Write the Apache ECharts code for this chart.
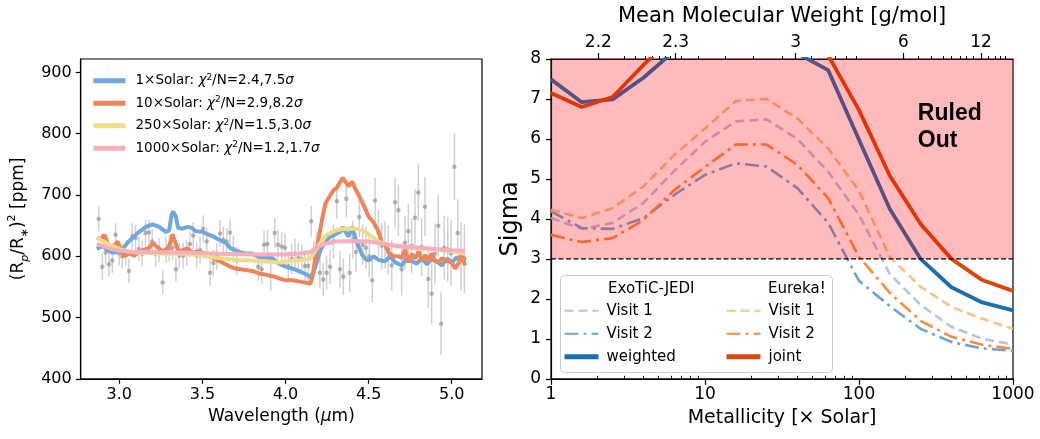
<!DOCTYPE html>
<html><head><meta charset="utf-8">
<script src="https://cdn.jsdelivr.net/npm/echarts@6/dist/echarts.min.js"></script>
<style>html,body{margin:0;padding:0;background:#fff}#c{width:1040px;height:439px}</style>
</head><body><div id="c"></div>
<script>
// ---------------- Left panel data ----------------
const wavelength = [2.876,2.898,2.918,2.938,2.958,2.978,3.000,3.018,3.038,3.058,3.078,3.098,3.118,3.138,3.158,3.178,3.198,3.218,3.240,3.261,3.281,3.300,3.320,3.341,3.361,3.385,3.405,3.425,3.445,3.466,3.486,3.505,3.526,3.546,3.566,3.586,3.606,3.626,3.646,3.666,3.686,3.706,
3.836,3.856,3.871,3.891,3.911,3.935,3.955,3.977,3.997,4.017,4.037,4.057,4.077,4.097,4.117,4.137,4.155,4.170,4.187,4.207,4.227,4.247,4.268,4.288,4.308,4.328,4.348,4.366,4.386,4.404,4.424,4.444,4.464,4.484,4.504,4.522,4.539,4.559,4.579,4.599,4.618,4.639,4.659,4.679,4.699,4.719,4.739,4.759,4.779,4.799,4.819,4.839,4.859,4.879,4.899,4.919,4.936,4.955,4.976,4.996,5.016,5.036,5.056,5.076];
const depth = [661,583,606,587,593,635,605,600,605,576,633,630,612,604,638,639,624,604,610,557,611,612,614,579,601,601,605,620,634,601,610,645,624,573,589,600,637,627,624,639,612,593,
583,579,619,620,568,638,619,616,614,584,596,604,597,595,584,584,657,600,614,573,562,573,583,624,690,579,567,694,573,627,607,664,619,614,600,561,691,638,617,619,611,585,688,675,579,622,641,617,663,704,615,681,563,539,604,650,490,614,611,605,746,638,600,596];
const depthErr = [20,21,20,20,20,20,20,20,21,20,21,21,20,21,21,21,20,21,20,20,21,21,21,20,21,21,21,21,22,21,22,22,22,21,22,22,22,22,22,22,22,23,
23,23,23,23,24,24,24,24,24,24,25,25,25,25,25,25,25,25,26,26,27,27,28,28,29,29,30,30,31,31,32,33,33,34,35,36,37,38,38,39,40,41,41,42,43,43,44,45,46,46,47,48,48,49,50,50,51,52,53,54,54,55,56,56];

const model1x = [[2.865,612],[2.90,617],[2.93,610],[2.96,606],[3.0,607],[3.03,615],[3.05,622],[3.08,630],[3.12,640],[3.16,648],[3.2,652],[3.24,648],[3.28,640],[3.30,642],[3.315,668],[3.325,673],[3.34,665],[3.355,646],[3.38,645],[3.41,648],[3.43,647],[3.46,641],[3.5,640],[3.53,636],[3.56,633],[3.6,627],[3.64,622],[3.67,613],[3.7,609],[3.75,605],[3.8,604],[3.84,599],[3.88,598],[3.92,597],[3.96,588],[4.0,583],[4.04,580],[4.08,576],[4.12,571],[4.15,566],[4.17,575],[4.19,592],[4.21,610],[4.23,620],[4.26,630],[4.3,636],[4.33,640],[4.345,648],[4.36,640],[4.38,632],[4.40,648],[4.42,630],[4.44,616],[4.46,603],[4.48,596],[4.5,593],[4.53,600],[4.56,594],[4.6,592],[4.63,600],[4.66,590],[4.7,585],[4.73,598],[4.76,592],[4.79,588],[4.82,597],[4.85,587],[4.88,595],[4.91,592],[4.94,585],[4.97,596],[5.0,590],[5.03,598],[5.06,593],[5.08,598]];
const model10x = [[2.865,630],[2.89,628],[2.91,635],[2.93,622],[2.945,616],[2.97,618],[2.99,624],[3.01,610],[3.03,600],[3.06,605],[3.09,601],[3.12,607],[3.15,611],[3.18,614],[3.2,621],[3.23,615],[3.26,608],[3.29,612],[3.31,624],[3.32,636],[3.335,625],[3.355,608],[3.38,610],[3.41,613],[3.44,606],[3.47,608],[3.5,606],[3.54,600],[3.58,595],[3.62,590],[3.66,584],[3.70,580],[3.75,578],[3.8,576],[3.84,572],[3.88,570],[3.93,567],[3.97,563],[4.0,561],[4.04,561],[4.08,559],[4.12,557],[4.15,555],[4.165,570],[4.18,600],[4.2,630],[4.22,660],[4.24,686],[4.27,700],[4.29,708],[4.31,712],[4.33,722],[4.345,728],[4.36,722],[4.38,714],[4.40,722],[4.42,710],[4.44,700],[4.47,683],[4.5,665],[4.53,655],[4.56,640],[4.58,622],[4.60,618],[4.62,606],[4.65,600],[4.68,600],[4.70,597],[4.72,612],[4.74,590],[4.76,604],[4.78,596],[4.80,608],[4.82,592],[4.84,602],[4.86,593],[4.88,605],[4.90,592],[4.92,590],[4.94,597],[4.97,592],[5.0,590],[5.02,580],[5.04,588],[5.06,605],[5.08,585]];
const model250x = [[2.865,630],[2.9,625],[2.95,618],[3.0,612],[3.05,608],[3.1,606],[3.2,605],[3.3,604],[3.4,604],[3.5,601],[3.6,597],[3.7,594],[3.8,593],[3.9,591],[3.97,590],[4.05,593],[4.1,594],[4.15,596],[4.18,610],[4.21,622],[4.25,635],[4.3,642],[4.35,645],[4.42,645],[4.47,641],[4.52,632],[4.56,624],[4.6,620],[4.65,617],[4.7,615],[4.8,613],[4.9,611],[5.0,608],[5.08,604]];
const model1000x = [[2.865,620],[2.9,617],[2.95,612],[3.0,609],[3.1,607],[3.2,607],[3.4,606],[3.6,604],[3.8,603],[4.0,603],[4.1,605],[4.15,607],[4.19,614],[4.23,620],[4.3,624],[4.4,625],[4.5,624],[4.55,622],[4.62,619],[4.7,616],[4.8,614],[4.9,612],[5.0,610],[5.08,609]];
const modelNames = ['1×Solar','10×Solar','250×Solar','1000×Solar'];
const modelLabels = ['1×Solar: {i|χ}{s|2}/N=2.4,7.5{i|σ}','10×Solar: {i|χ}{s|2}/N=2.9,8.2{i|σ}','250×Solar: {i|χ}{s|2}/N=1.5,3.0{i|σ}','1000×Solar: {i|χ}{s|2}/N=1.2,1.7{i|σ}'];
const leftXTicks = [3.0,3.5,4.0,4.5,5.0];
const leftYTicks = [400,500,600,700,800,900];

// ---------------- Right panel data ----------------
const metallicity = [1,1.585,2.512,3.981,6.31,10,15.85,25.12,39.81,63.1,100,158.5,251.2,398.1,631,1000];
const jediVisit1   = [4.02,3.75,3.90,4.40,5.20,5.93,6.44,6.49,6.00,5.18,4.10,2.62,1.85,1.30,1.00,0.86];
const jediVisit2   = [4.19,3.77,3.75,4.02,4.60,5.10,5.39,5.31,4.77,3.90,2.45,1.82,1.25,0.92,0.76,0.70];
const jediWeighted = [7.49,6.92,6.99,7.53,8.20,9.00,9.50,9.30,8.14,7.72,5.98,4.25,3.00,2.29,1.91,1.71];
const eurekaVisit1 = [4.23,4.02,4.27,4.81,5.60,6.26,6.95,7.00,6.51,5.76,4.70,3.05,2.30,1.80,1.50,1.25];
const eurekaVisit2 = [3.60,3.42,3.52,3.97,4.72,5.30,5.86,5.86,5.35,4.52,3.05,2.15,1.45,1.05,0.85,0.75];
const eurekaJoint  = [7.15,6.80,7.05,7.85,8.60,9.50,10.0,9.80,9.00,8.09,6.72,5.08,3.87,3.00,2.47,2.20];
const metTicks = [1,10,100,1000];
const metMinorTicks = [2,3,4,5,6,7,8,9,20,30,40,50,60,70,80,90,200,300,400,500,600,700,800,900];
const mmwTickZ = [2.03,6.45,38.8,194,620];
const mmwTickLabels = ['2.2','2.3','3','6','12'];
const mmwMinorZ = [2.99,3.55,4.08,4.55,5.03,5.50,5.99,7.06,9.01,13.5,20.5,31.6,49.3,69.8,83.2,95.6,241.5,296.5,351,400,453,500,550,688,764,824,887];
const sigmaTicks = [0,1,2,3,4,5,6,7,8];
const ruledOutSigma = 3;
const ruledOutLabelAt = [241, 6.3];

// ---------------- Chart ----------------
const FONT = 'DejaVu Sans';
const chart = echarts.init(document.getElementById('c'), null, {renderer: 'canvas'});
const zip = (xs, ys) => xs.map((x, i) => [x, ys[i]]);
const axisBase = {
  axisLine: {show: true, onZero: false, lineStyle: {color: '#000', width: 1.2}},
  axisTick: {show: true, length: 5, lineStyle: {color: '#000', width: 1.2}},
  splitLine: {show: false},
};
const lbl = (size, extra) => Object.assign({color: '#000', fontSize: size, fontFamily: FONT}, extra || {});

const modelColors = ['#6fa8dc', '#ee8459', '#f0dc88', '#f9aebb'];
const modelData = [model1x, model10x, model250x, model1000x];

const series = [];
series.push({
  type: 'custom', xAxisIndex: 0, yAxisIndex: 0, z: 1,
  data: wavelength.map((w, i) => [w, depth[i], depthErr[i]]),
  renderItem: (params, api) => {
    const x = api.value(0), y = api.value(1), e = api.value(2);
    const a = api.coord([x, y - e]), b = api.coord([x, y + e]);
    return {type: 'line', shape: {x1: a[0], y1: a[1], x2: b[0], y2: b[1]},
      style: {stroke: 'rgba(150,150,150,0.45)', lineWidth: 1.5}};
  }
});
series.push({
  type: 'scatter', xAxisIndex: 0, yAxisIndex: 0, z: 2, symbolSize: 4.5,
  itemStyle: {color: 'rgba(130,130,130,0.7)'},
  data: zip(wavelength, depth)
});
modelData.forEach((d, i) => series.push({
  type: 'line', name: modelNames[i], xAxisIndex: 0, yAxisIndex: 0, z: 3 + i,
  data: d, symbol: 'none', showSymbol: false,
  lineStyle: {color: modelColors[i], width: 4}, itemStyle: {color: modelColors[i]}
}));

const rightDefs = [
  ['JEDI Visit 1', jediVisit1, '#b4c4e4', 2.6, [9, 5]],
  ['JEDI Visit 2', jediVisit2, '#6aa5d8', 2.6, [14, 5, 3, 5]],
  ['JEDI weighted', jediWeighted, '#1a6fb3', 3.8, 'solid'],
  ['Eureka Visit 1', eurekaVisit1, '#fdbf86', 2.6, [9, 5]],
  ['Eureka Visit 2', eurekaVisit2, '#fd8b3c', 2.6, [14, 5, 3, 5]],
  ['Eureka joint', eurekaJoint, '#d8480a', 3.8, 'solid'],
];
rightDefs.forEach((r, i) => series.push({
  type: 'line', name: r[0], xAxisIndex: 1, yAxisIndex: 1, z: 3 + i,
  data: zip(metallicity, r[1]), symbol: 'none', showSymbol: false, clip: true,
  lineStyle: {color: r[2], width: r[3], type: r[4]}, itemStyle: {color: r[2]}
}));
// Ruled-out shading drawn over the curves
series.push({
  type: 'custom', xAxisIndex: 1, yAxisIndex: 1, z: 20,
  data: [[metallicity[0], ruledOutSigma]],
  renderItem: (params, api) => {
    const cs = params.coordSys;
    const p = api.coord([api.value(0), api.value(1)]);
    return {type: 'group', children: [
      {type: 'rect', shape: {x: cs.x, y: cs.y, width: cs.width, height: p[1] - cs.y},
        style: {fill: 'rgba(255,0,0,0.265)'}},
      {type: 'line', shape: {x1: cs.x, y1: p[1], x2: cs.x + cs.width, y2: p[1]},
        style: {stroke: '#000', lineWidth: 1.3, lineDash: [5, 2.5]}}
    ]};
  }
});
// "Ruled Out" annotation placed at a data position
series.push({
  type: 'custom', xAxisIndex: 1, yAxisIndex: 1, z: 30,
  data: [ruledOutLabelAt],
  renderItem: (params, api) => {
    const p = api.coord([api.value(0), api.value(1)]);
    return {type: 'text', x: p[0], y: p[1], style: {text: 'Ruled\nOut', fill: '#000', fontSize: 23,
      fontWeight: 'bold', fontFamily: 'Liberation Sans', lineHeight: 27.6, align: 'left', verticalAlign: 'middle'}};
  }
});

const nameOf = n => n.replace(/^(JEDI|Eureka) /, '');
const rightLegend = (names, left) => ({
  data: names.map((n, i) => i === 2 ? {name: n, lineStyle: {width: 5}} : {name: n}),
  left: left, top: 301.7, orient: 'vertical', z: 60,
  itemWidth: 34, itemHeight: 14, itemGap: 5, padding: 0,
  itemStyle: {opacity: 0},
  formatter: nameOf, textStyle: lbl(15, {lineHeight: 18, padding: [0, 0, 0, 3]}), selectedMode: false
});

const option = {
  animation: false,
  backgroundColor: '#fff',
  grid: [
    {left: 80.7, top: 59, width: 401.3, height: 319.8, show: true, borderColor: '#000', borderWidth: 1.2, backgroundColor: 'transparent'},
    {left: 551, top: 59, width: 462, height: 319.8, show: true, borderColor: '#000', borderWidth: 1.2, backgroundColor: 'transparent'}
  ],
  xAxis: [
    Object.assign({}, axisBase, {gridIndex: 0, type: 'value', min: 2.768, max: 5.182,
      axisLabel: lbl(16, {margin: 8, customValues: leftXTicks, formatter: v => v.toFixed(1)}),
      axisTick: Object.assign({}, axisBase.axisTick, {customValues: leftXTicks}),
      name: 'Wavelength ({i|μ}m)', nameLocation: 'middle', nameGap: 28,
      nameTextStyle: lbl(17, {rich: {i: {fontStyle: 'italic', fontSize: 17, fontFamily: FONT, color: '#000'}}})}),
    Object.assign({}, axisBase, {gridIndex: 1, type: 'log', logBase: 10, min: 1, max: 1000,
      axisLabel: lbl(17, {margin: 7, customValues: metTicks, formatter: v => String(Math.round(v))}),
      axisTick: Object.assign({}, axisBase.axisTick, {length: 6, customValues: metTicks}),
      name: 'Metallicity [× Solar]', nameLocation: 'middle', nameGap: 30, nameTextStyle: lbl(19)}),
    Object.assign({}, axisBase, {gridIndex: 1, type: 'log', logBase: 10, min: 1, max: 1000,
      axisLine: {show: false}, axisLabel: {show: false},
      axisTick: {show: true, length: 3, customValues: metMinorTicks, lineStyle: {color: '#000', width: 1}}}),
    Object.assign({}, axisBase, {gridIndex: 1, type: 'log', logBase: 10, min: 1, max: 1000, position: 'top',
      axisLabel: lbl(17, {margin: 8, customValues: mmwTickZ, formatter: v => {
        let best = 0, bd = Infinity;
        mmwTickZ.forEach((z, i) => { const d = Math.abs(Math.log10(z) - Math.log10(v)); if (d < bd) { bd = d; best = i; } });
        return mmwTickLabels[best];
      }}),
      axisTick: Object.assign({}, axisBase.axisTick, {length: 6, customValues: mmwTickZ}),
      name: 'Mean Molecular Weight [g/mol]', nameLocation: 'middle', nameGap: 32, nameTextStyle: lbl(21)}),
    Object.assign({}, axisBase, {gridIndex: 1, type: 'log', logBase: 10, min: 1, max: 1000, position: 'top',
      axisLine: {show: false}, axisLabel: {show: false},
      axisTick: {show: true, length: 3, customValues: mmwMinorZ, lineStyle: {color: '#000', width: 1}}})
  ],
  yAxis: [
    Object.assign({}, axisBase, {gridIndex: 0, type: 'value', min: 400, max: 922,
      axisLabel: lbl(16, {margin: 9, customValues: leftYTicks}),
      axisTick: Object.assign({}, axisBase.axisTick, {customValues: leftYTicks}),
      name: '(R{sb|p}/R{sb|∗}){sp|2} [ppm]', nameLocation: 'middle', nameGap: 50,
      nameTextStyle: lbl(17, {rich: {
        sb: {fontSize: 11, fontStyle: 'italic', fontFamily: FONT, color: '#000', verticalAlign: 'bottom', lineHeight: 24},
        sp: {fontSize: 11, fontFamily: FONT, color: '#000', verticalAlign: 'top', lineHeight: 24}}})}),
    Object.assign({}, axisBase, {gridIndex: 1, type: 'value', min: 0, max: 8, interval: 1,
      axisLabel: lbl(17, {margin: 10}),
      name: 'Sigma', nameLocation: 'middle', nameGap: 28, nameTextStyle: lbl(24)})
  ],
  legend: [
    {data: modelNames, left: 91, top: 72.7, orient: 'vertical', itemWidth: 32, itemHeight: 14, itemGap: 6.5, padding: 0,
      itemStyle: {opacity: 0}, lineStyle: {width: 5}, selectedMode: false,
      formatter: n => modelLabels[modelNames.indexOf(n)],
      textStyle: lbl(13.5, {lineHeight: 16, padding: [0, 0, 0, 5], rich: {
        i: {fontStyle: 'italic', fontSize: 13.5, fontFamily: FONT, color: '#000', lineHeight: 16},
        s: {fontSize: 9, fontFamily: FONT, color: '#000', verticalAlign: 'top', lineHeight: 16}}})},
    rightLegend(['JEDI Visit 1', 'JEDI Visit 2', 'JEDI weighted'], 562),
    rightLegend(['Eureka Visit 1', 'Eureka Visit 2', 'Eureka joint'], 724)
  ],
  graphic: [
    {type: 'rect', z: 50, shape: {x: 560.5, y: 275.5, width: 272, height: 97, r: 4},
      style: {fill: 'rgba(255,255,255,0.85)', stroke: '#cccccc', lineWidth: 1}},
    {type: 'text', z: 61, x: 608, y: 289, style: {text: 'ExoTiC-JEDI', fill: '#000', fontSize: 15, fontFamily: FONT, verticalAlign: 'middle'}},
    {type: 'text', z: 61, x: 768, y: 289, style: {text: 'Eureka!', fill: '#000', fontSize: 15, fontFamily: FONT, verticalAlign: 'middle'}}
  ],
  series: series
};
chart.setOption(option);
</script></body></html>
